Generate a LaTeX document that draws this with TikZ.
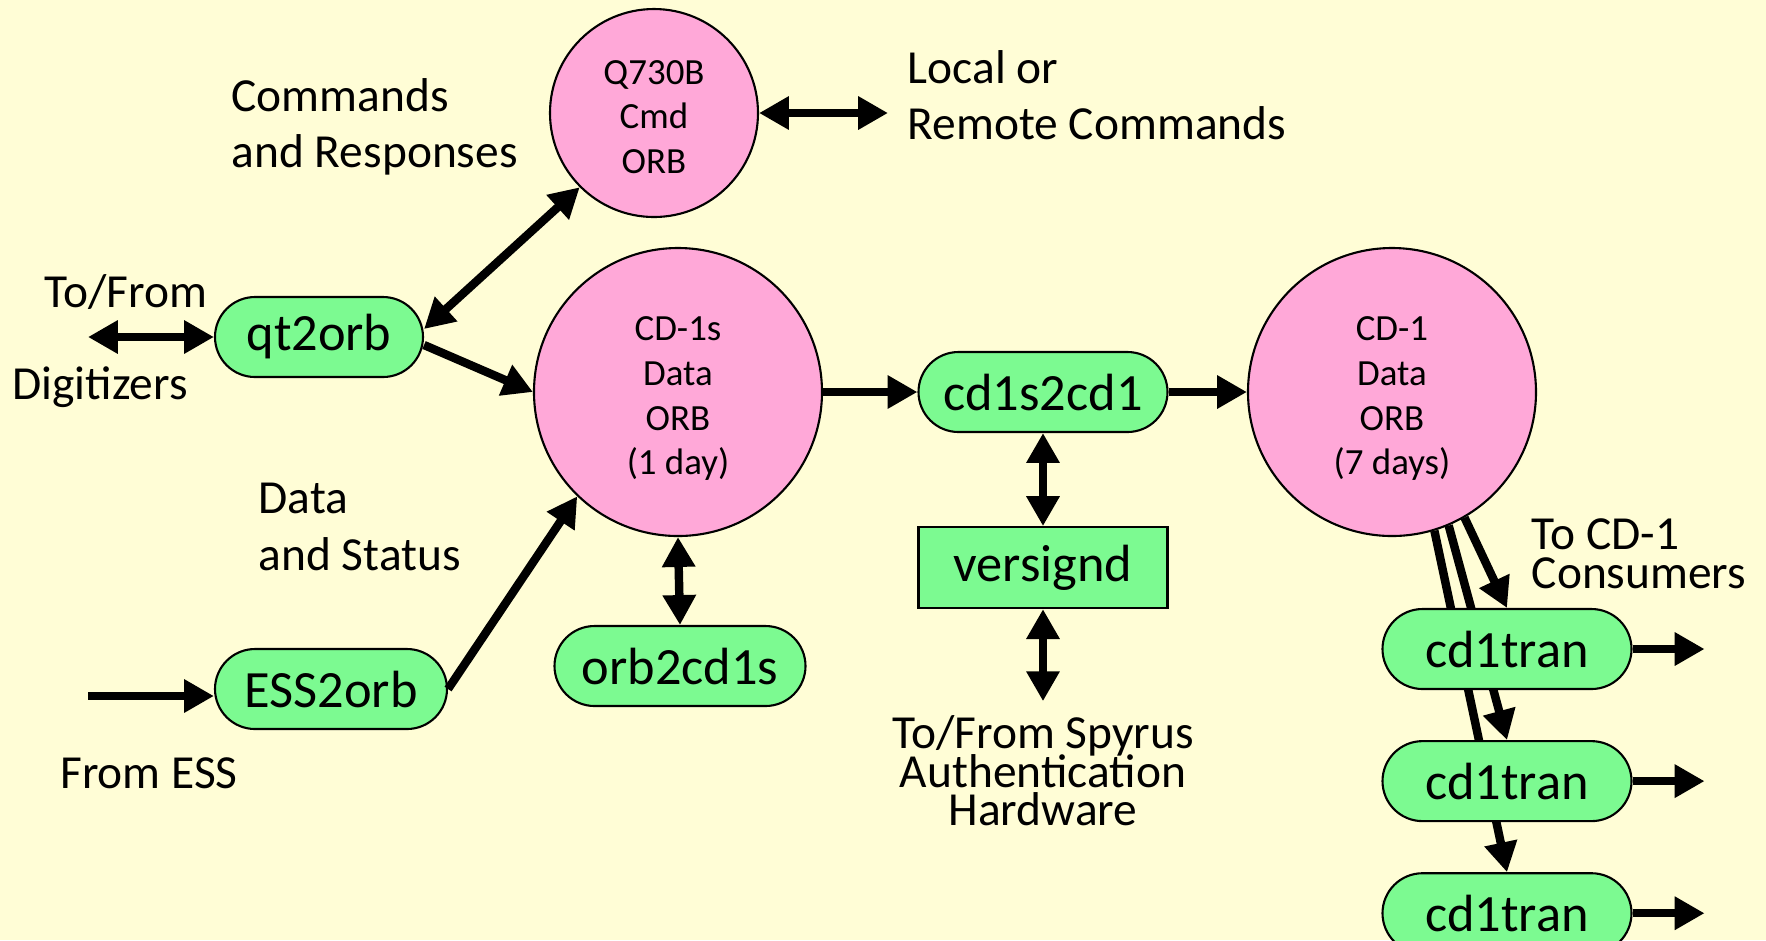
\documentclass[tikz,border=0pt]{standalone}
\usepackage{fontspec}
\setmainfont{Carlito}
\usetikzlibrary{positioning,shapes.misc,arrows.meta}

\definecolor{paper}{RGB}{255,253,214}
\definecolor{orbpink}{RGB}{255,168,216}
\definecolor{procgreen}{RGB}{124,250,145}

% lets stacked lines sit closer than their glyphs allow
\newcommand\tightlines{\lineskiplimit-20pt\relax}
% centred stack inside a ring, nudged a little below the middle
\newcommand\ringtext[1]{\raisebox{-0.07cm}[\height][\depth]{\begin{tabular}{@{}c@{}}#1\end{tabular}}}

\pgfdeclarelayer{under}
\pgfsetlayers{under,main}

\begin{document}
\begin{tikzpicture}[
	orb/.style={
		circle, draw, semithick, fill=orbpink,
		inner sep=0pt,
		font=\fontsize{10.5}{12.7}\selectfont
	},
	proc/.style={
		rounded rectangle, draw, semithick, fill=procgreen,
		minimum width=2.49cm, minimum height=0.8cm, inner sep=0pt,
		font=\fontsize{14.9}{17}\selectfont
	},
	box/.style={
		rectangle, draw, semithick, fill=procgreen,
		minimum width=2.49cm, minimum height=0.81cm, inner sep=0pt,
		font=\fontsize{14.9}{17}\selectfont
	},
	note/.style={inner sep=0pt, align=left, font=\fontsize{13.5}{16}\selectfont},
	tight/.style={font={\fontsize{13.5}{11}\selectfont\tightlines}},
	flow/.style={line width=2.4pt, -{Triangle[length=8.5pt,width=9pt]}},
	both/.style={line width=2.4pt, {Triangle[length=8.5pt,width=9pt]}-{Triangle[length=8.5pt,width=9pt]}}
	]
	\useasboundingbox (0,0) rectangle (17.66,-9.40);

	% ORBs
	\node[orb, minimum size=2.08cm] (q730) at (6.54,-1.13) {\ringtext{Q730B\\Cmd\\ORB}};
	\node[orb, minimum size=2.88cm] (cd1s) at (6.78,-3.92) {\ringtext{CD-1s\\Data\\ORB\\(1 day)}};
	\node[orb, minimum size=2.88cm] (cd1) at (13.92,-3.92) {\ringtext{CD-1\\Data\\ORB\\(7 days)}};

	% programs
	\node[proc, minimum width=2.08cm] (qt2orb) at (3.19,-3.37) {qt2orb};
	\node[proc, minimum width=2.32cm] (ess2orb) at (3.31,-6.89) {ESS2orb};
	\node[proc, minimum width=2.51cm] (orb2cd1s) at (6.80,-6.66) {orb2cd1s};
	\node[proc] (cd1s2cd1) at (10.43,-3.92) {cd1s2cd1};
	\node[box, below=0.93cm of cd1s2cd1] (versignd) {versignd};
	\node[proc] (tran1) at (15.07,-6.49) {cd1tran};
	\node[proc, below=0.5cm of tran1] (tran2) {cd1tran};
	\node[proc, below=0.5cm of tran2] (tran3) {cd1tran};

	% labels
	\node[note, anchor=west] (cmdlbl) at (2.31,-1.27) {Commands\\and Responses};
	\node[note, anchor=west] (remote) at (9.07,-0.95) {Local or\\Remote Commands};
	\node[note] (tofrom) at (1.26,-2.92) {To/From};
	\node[note] (digit) at (1.00,-3.87) {Digitizers};
	\node[note, anchor=west] (datalbl) at (2.58,-5.27) {Data\\and Status};
	\node[note] (fromess) at (1.49,-7.73) {From ESS};
	\node[note, tight, align=center] (spyrus) at (10.43,-7.71) {To/From Spyrus\\Authentication\\Hardware};
	\node[note, tight, anchor=west] (consum) at (15.31,-5.54) {To CD-1\\Consumers};

	% free ends
	\coordinate (cmdend) at (8.88,-1.13);
	\coordinate (digend) at (0.88,-3.37);
	\coordinate (essend) at (0.88,-6.96);
	\coordinate[below=0.92cm of versignd.south] (hwend);

	\draw[both] (q730.east) -- (cmdend);
	\draw[both] ([yshift=0.08cm]qt2orb.east) -- (q730.225);
	\draw[flow] ([yshift=-0.08cm]qt2orb.east) -- (cd1s.west);
	\draw[both] (digend) -- (qt2orb.west);
	\draw[flow] (essend) -- (essend -| ess2orb.west);
	\draw[flow] (ess2orb.east) -- (cd1s.226);
	\draw[both] (cd1s.south) -- (orb2cd1s.north);
	\draw[flow] (cd1s.east) -- (cd1s2cd1.west);
	\draw[flow] (cd1s2cd1.east) -- (cd1.west);
	\draw[both] (cd1s2cd1.south) -- (versignd.north);
	\draw[both] (versignd.south) -- (hwend);
	\foreach \i in {1,2,3}
	{
		\draw[flow] (tran\i.east) -- ++(0.72,0) coordinate (out\i);
	}

	% fan-out to the consumers runs behind the cd1tran boxes
	\begin{pgfonlayer}{under}
		\fill[paper] (0,0) rectangle (17.66,-9.40);
		\draw[flow] (cd1.-60) -- (tran1.north);
		\draw[flow] (cd1.-67) -- (tran2.north);
		\draw[flow] (cd1.-73) -- (tran3.north);
	\end{pgfonlayer}
\end{tikzpicture}
\end{document}
